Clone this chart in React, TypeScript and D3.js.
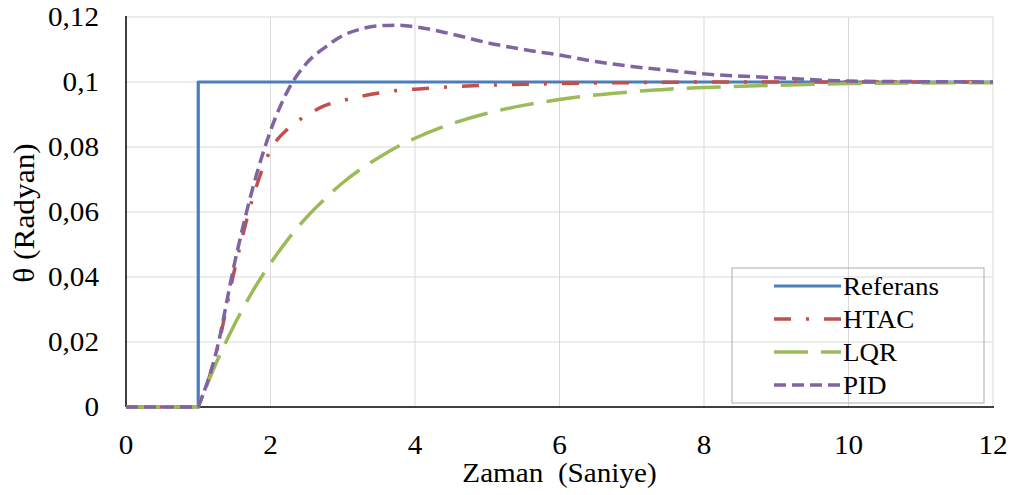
import React from "react";
import * as d3 from "d3";

const times = [0, 1, 1.25, 1.5, 1.75, 2, 2.25, 2.5, 2.75, 3, 3.25, 3.5, 3.75, 4, 4.5, 5, 5.5, 6, 6.5, 7, 7.5, 8, 9, 10, 11, 12];
const pid = [0, 0, 0.017, 0.044, 0.067, 0.085, 0.0978, 0.1058, 0.1106, 0.1143, 0.1163, 0.1173, 0.1175, 0.117, 0.1148, 0.1121, 0.11, 0.1083, 0.1063, 0.1048, 0.1036, 0.1025, 0.1013, 0.1003, 0.1001, 0.1];
const htac = [0, 0, 0.0165, 0.042, 0.064, 0.079, 0.0858, 0.0897, 0.0927, 0.0943, 0.0956, 0.0966, 0.0974, 0.0978, 0.0985, 0.099, 0.0993, 0.0995, 0.0997, 0.0998, 0.0999, 0.1, 0.1, 0.1, 0.1, 0.1];
const lqr = [0, 0, 0.0136, 0.0253, 0.0355, 0.0442, 0.0518, 0.0584, 0.064, 0.069, 0.0732, 0.0768, 0.08, 0.0827, 0.0871, 0.0904, 0.0928, 0.0946, 0.096, 0.097, 0.0978, 0.0983, 0.099, 0.0995, 0.0997, 0.0998];
const refTimes = [0, 1, 1, 12];
const refValues = [0, 0, 0.1, 0.1];

const xTicks = [0, 2, 4, 6, 8, 10, 12];
const yTicks = [0, 0.02, 0.04, 0.06, 0.08, 0.1, 0.12];
const yTickLabels = ["0", "0,02", "0,04", "0,06", "0,08", "0,1", "0,12"];
const seriesNames = ["Referans", "HTAC", "LQR", "PID"];

const W = 1019, H = 495;
const left = 126, right = 993, top = 17, bottom = 407;

const x = d3.scaleLinear().domain([0, 12]).range([left, right]);
const y = d3.scaleLinear().domain([0, 0.12]).range([bottom, top]);

const colors = ["#4A7EBB", "#C0504D", "#9BBB59", "#8064A2"];
const dashes = ["none", "17,15,3,15", "34,13", "12,6"];
const widths = [3.2, 3.5, 3.5, 3.5];
const FONT = "'Liberation Serif', 'Times New Roman', serif";
const SX = 1.08;

function seriesPath(vals: number[]): string {
  const startIdx = 1;
  const flat = `M${x(times[0])},${y(vals[0])}`;
  const pts: [number, number][] = times.slice(startIdx).map((t, i) => [x(t), y(vals[i + startIdx])]);
  const curve = d3.line().curve(d3.curveMonotoneX)(pts) || "";
  return flat + "L" + curve.slice(1);
}

export default function App() {
  const refPath = d3.line<number>()
    .x((_, i) => x(refTimes[i]))
    .y((d) => y(d))(refValues) || "";
  const paths = [refPath, seriesPath(htac), seriesPath(lqr), seriesPath(pid)];

  const legX0 = 774, legX1 = 841, legRows = [286, 319, 352, 385];

  return (
    <svg width={W} height={H} style={{ position: "absolute", left: 0, top: 0, background: "#fff" }}>
      <rect x={0} y={0} width={W} height={H} fill="#fff" />
      {yTicks.slice(1).map((v) => (
        <line key={"gy" + v} x1={left} x2={right} y1={y(v)} y2={y(v)} stroke="#d9d9d9" strokeWidth={1} />
      ))}
      {xTicks.slice(1).map((v) => (
        <line key={"gx" + v} x1={x(v)} x2={x(v)} y1={top} y2={bottom} stroke="#d9d9d9" strokeWidth={1} />
      ))}
      <line x1={left} x2={left} y1={top - 1} y2={bottom} stroke="#000" strokeWidth={1.5} />
      <line x1={left} x2={right + 1} y1={bottom} y2={bottom} stroke="#000" strokeWidth={1.5} />
      {yTicks.map((v, i) => (
        <text key={"ty" + v} transform={`translate(99,${y(v) + 9}) scale(${SX},1)`} textAnchor="end"
          fontFamily={FONT} fontSize={27} fill="#000">{yTickLabels[i]}</text>
      ))}
      {xTicks.map((v) => (
        <text key={"tx" + v} transform={`translate(${x(v)},454) scale(${SX},1)`} textAnchor="middle"
          fontFamily={FONT} fontSize={27} fill="#000">{String(v)}</text>
      ))}
      <text transform={`translate(${(left + right) / 2},482) scale(${SX},1)`} textAnchor="middle"
        fontFamily={FONT} fontSize={27} fill="#000" style={{ whiteSpace: "pre" }}>{"Zaman  (Saniye)"}</text>
      <text transform={`translate(34,${(top + bottom) / 2 + 1}) rotate(-90) scale(1.12,1.08)`} textAnchor="middle"
        fontFamily={FONT} fontSize={28} fill="#000" style={{ whiteSpace: "pre" }}>{"θ (Radyan)"}</text>
      {paths.map((p, i) => (
        <path key={"s" + i} d={p} fill="none" stroke={colors[i]} strokeWidth={widths[i]}
          strokeDasharray={dashes[i]} strokeLinejoin="round" />
      ))}
      <rect x={732} y={268} width={252} height={135} fill="none" stroke="#a3abb9" strokeWidth={1} />
      {seriesNames.map((n, i) => (
        <g key={"l" + n}>
          <line x1={legX0} x2={legX1} y1={legRows[i]} y2={legRows[i]} stroke={colors[i]} strokeWidth={widths[i]}
            strokeDasharray={dashes[i]} />
          <text transform={`translate(843,${legRows[i] + 9}) scale(${SX},1)`} fontFamily={FONT} fontSize={25} fill="#000">{n}</text>
        </g>
      ))}
    </svg>
  );
}
